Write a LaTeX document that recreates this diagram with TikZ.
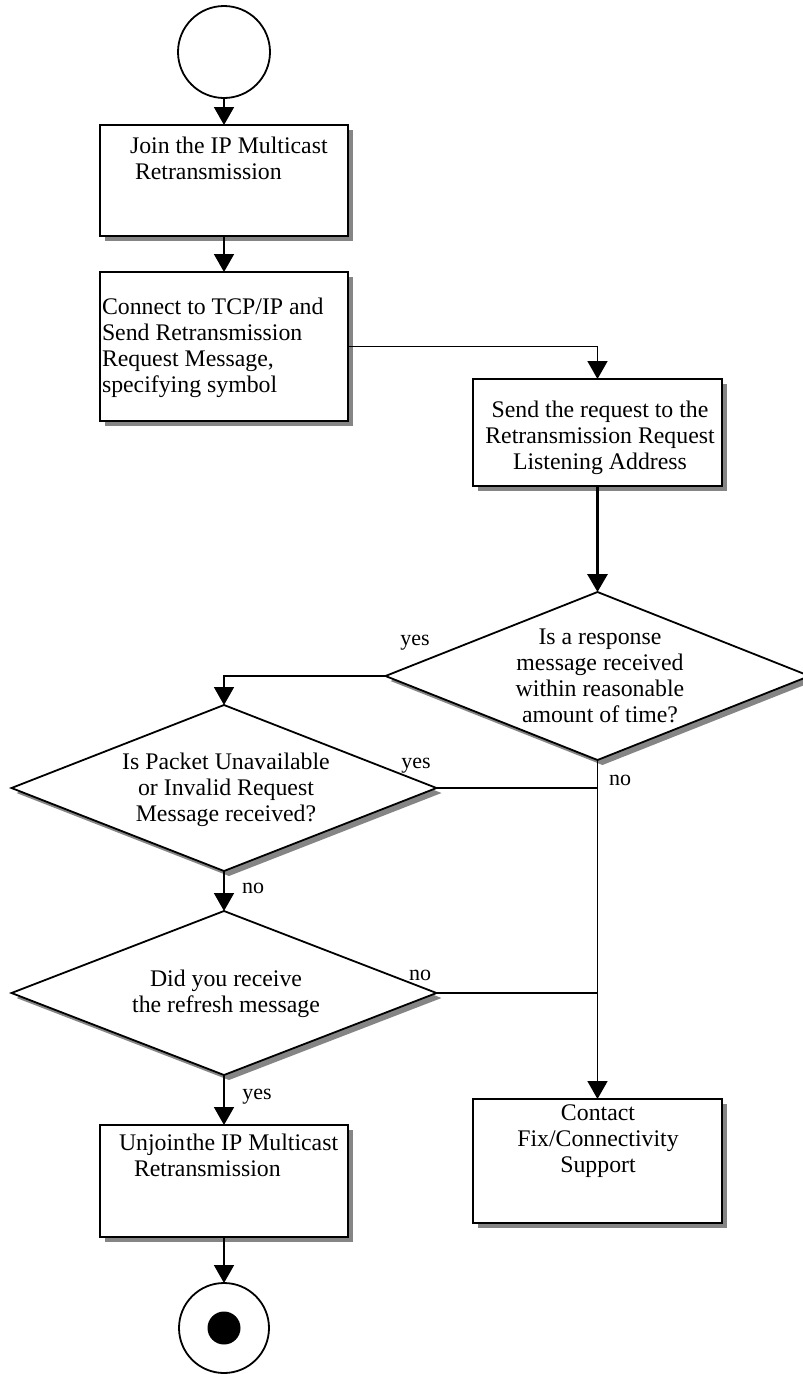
\documentclass[tikz,border=0pt]{standalone}
\usepackage{fontspec}
\setmainfont{Liberation Serif}
\usetikzlibrary{arrows.meta,shapes.geometric,shadows,calc}
\begin{document}
\begin{tikzpicture}[x=1pt,y=-1pt,
  every node/.style={inner sep=0pt, outer sep=0pt},
  txt/.style={font=\fontsize{23.8}{26}\selectfont},
  lbl/.style={font=\fontsize{22}{24}\selectfont},
  shad/.style={drop shadow={shadow xshift=5pt, shadow yshift=-5pt, fill=black!48, opacity=1}},
  box/.style={draw, line width=1.8pt, fill=white, rectangle, shad},
  dec/.style={draw, line width=1.8pt, fill=white, diamond, shad},
  conn/.style={line width=1.8pt},
  arr/.style={conn, -{Triangle[width=20pt,length=18pt]}},
]
\useasboundingbox (0,0) rectangle (803,1374);

% start / end
\node[draw, circle, line width=1.8pt, minimum size=92pt] (start) at (224,52) {};
\node[box, minimum width=248pt, minimum height=111pt] (box1) at (224,180.5) {};
\node[txt, anchor=north west, align=left] (t1) at (130,137) {Join the IP Multicast\\\hspace*{5pt}Retransmission};

\node[box, minimum width=248pt, minimum height=149pt] (box2) at (224,346.5) {};
\node[txt, anchor=north west, align=left] (t2) at (102,298) {Connect to TCP/IP and\\Send Retransmission\\Request Message,\\specifying symbol};

\node[box, minimum width=249pt, minimum height=107pt] (box3) at (597.5,432.5) {};
\node[txt, anchor=north, align=center] (t3) at (600,401) {Send the request to the\\Retransmission Request\\Listening Address};

\node[dec, minimum width=424pt, minimum height=168pt] (d1) at (597.5,676) {};
\node[txt, anchor=north, align=center] (td1) at (600,629) {Is a response\\message received\\within reasonable\\amount of time?};

\node[dec, minimum width=425pt, minimum height=166pt] (d2) at (224,788) {};
\node[txt, anchor=north, align=center] (td2) at (226,753) {Is Packet Unavailable\\or Invalid Request\\Message received?};

\node[dec, minimum width=425pt, minimum height=164pt] (d3) at (224,993) {};
\node[txt, anchor=north, align=center] (td3) at (226,970) {Did you receive\\the refresh message};

\node[box, minimum width=248pt, minimum height=112pt] (box4) at (224,1181) {};
\node[txt, anchor=north west, align=left] (t4) at (119,1134) {Unjoin\hspace{1pt}the IP Multicast\\\hspace*{15pt}Retransmission};

\node[box, minimum width=249pt, minimum height=124pt] (box5) at (597.5,1161) {};
\node[txt, anchor=north, align=center] (t5) at (598,1105) {Contact\\Fix/Connectivity\\Support};

\node[draw, circle, line width=1.8pt, minimum size=90pt] (end) at (224,1328) {};
\node[circle, fill=black, minimum size=33pt] (enddot) at (end.center) {};

% labels
\node[lbl] (y1) at (415,643) {yes};
\node[lbl] (y2) at (416,766) {yes};
\node[lbl] (n1) at (620,780) {no};
\node[lbl] (n2) at (253,888) {no};
\node[lbl] (n3) at (420,975) {no};
\node[lbl] (y3) at (257,1097) {yes};

% connectors
\draw[arr] (start) -- (box1);
\draw[arr] (box1) -- (box2);
\draw[arr] (box2.east) -| (box3.north);
\draw[arr, line width=3.2pt] (box3) -- (d1);
\draw[arr] (d1.west) -| (d2.north);
\draw[arr] (d1.south) -- (box5.north);
\draw[conn] (d2.east) -- (d2.east -| d1.south);
\draw[conn] (d3.east) -- (d3.east -| d1.south);
\draw[arr] (d2) -- (d3);
\draw[arr] (d3) -- (box4);
\draw[arr] (box4) -- (end);
\end{tikzpicture}
\end{document}
